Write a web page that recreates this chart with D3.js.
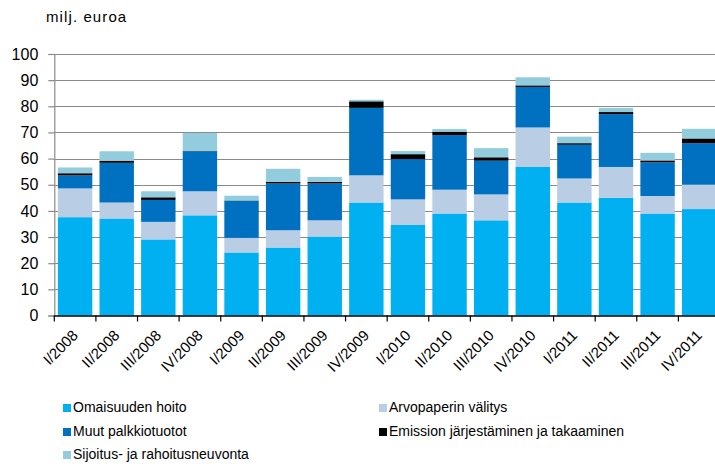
<!DOCTYPE html>
<html><head><meta charset="utf-8">
<script src="https://cdn.jsdelivr.net/npm/d3@7"></script>
<style>
body{margin:0;background:#fff;}
svg{display:block;font-family:"Liberation Sans",Arial,sans-serif;}
</style></head>
<body><svg id="c" width="715" height="467"></svg>
<script>
const categories = ["I/2008","II/2008","III/2008","IV/2008","I/2009","II/2009","III/2009","IV/2009","I/2010","II/2010","III/2010","IV/2010","I/2011","II/2011","III/2011","IV/2011"];
const seriesNames = ["Omaisuuden hoito","Arvopaperin välitys","Muut palkkiotuotot","Emission järjestäminen ja takaaminen","Sijoitus- ja rahoitusneuvonta"];
const omaisuudenHoito   = [37.6,37.1,29.1,38.3,24.1,26.0,30.2,43.2,34.6,39.0,36.4,56.8,43.2,45.0,39.0,40.7];
const arvopaperinValitys= [11.0, 6.1, 6.7, 9.2, 5.6, 6.6, 6.2,10.4, 9.8, 9.1, 9.9,15.1, 9.2,11.8, 6.7, 9.3];
const muutPalkkiotuotot = [ 5.0,15.2, 8.4,15.3,14.2,17.9,14.1,25.8,15.4,20.9,12.9,15.5,12.9,20.2,12.9,15.9];
const emissio           = [ 0.8, 0.8, 1.0, 0.1, 0.1, 0.6, 0.6, 2.5, 1.9, 1.3, 1.3, 0.6, 0.6, 0.8, 0.7, 1.8];
const sijoitusneuvonta  = [ 2.2, 3.6, 2.3, 6.9, 1.8, 5.0, 1.9, 0.6, 1.2, 1.0, 3.5, 3.1, 2.5, 1.6, 2.9, 3.7];
const yTicks = [0,10,20,30,40,50,60,70,80,90,100];
const colors = ["#00B0F0","#B9CDE5","#0070C0","#000000","#93CDDD"];

const seriesData = [omaisuudenHoito, arvopaperinValitys, muutPalkkiotuotot, emissio, sijoitusneuvonta];
const rows = categories.map((c,i)=>{const r={cat:c}; seriesNames.forEach((s,j)=>r[s]=seriesData[j][i]); return r;});
const stacked = d3.stack().keys(seriesNames)(rows);

const svg = d3.select("#c");
const x0 = 54.3, x1 = 720, yTop = 54, yBot = 315.5;
const x = d3.scaleBand().domain(categories).range([x0,x1]).paddingInner(0.173).paddingOuter(0.0865);
const y = d3.scaleLinear().domain([0,100]).range([yBot,yTop]);

// gridlines
svg.append("g").selectAll("line").data(yTicks.filter(t=>t>0)).join("line")
  .attr("x1",x0).attr("x2",715).attr("y1",d=>Math.round(y(d))+0.5).attr("y2",d=>Math.round(y(d))+0.5)
  .attr("stroke","#8a8a8a").attr("stroke-width",1.2);

// y axis
const yAxis = svg.append("g").attr("transform",`translate(${x0},0)`)
  .call(d3.axisLeft(y).tickValues(yTicks).tickSize(6).tickPadding(10).tickFormat(d3.format("d")));
yAxis.select(".domain").attr("stroke","#8a8a8a").attr("stroke-width",1.2);
yAxis.selectAll(".tick line").attr("stroke","#8a8a8a").attr("stroke-width",1.2);
yAxis.selectAll("text").attr("font-size",16).attr("fill","#000").attr("font-family","Liberation Sans, Arial, sans-serif");

// bars
svg.append("g").selectAll("g").data(stacked).join("g").attr("fill",(d,i)=>colors[i])
  .selectAll("rect").data(d=>d).join("rect")
  .attr("x",d=>x(d.data.cat)).attr("width",x.bandwidth())
  .attr("y",d=>y(d[1])).attr("height",d=>Math.max(0,y(d[0])-y(d[1])));

// x axis
const boundaries = d3.range(categories.length+1).map(i=>x0 + i*x.step());
const xa = svg.append("g");
xa.append("line").attr("x1",x0).attr("x2",715).attr("y1",yBot+0.5).attr("y2",yBot+0.5).attr("stroke","#000").attr("stroke-width",1.5);
xa.selectAll("line.t").data(boundaries).join("line").attr("class","t")
  .attr("x1",d=>d).attr("x2",d=>d).attr("y1",yBot).attr("y2",yBot+6).attr("stroke","#000").attr("stroke-width",1.2);
xa.selectAll("text").data(categories).join("text")
  .attr("transform",d=>`translate(${x(d)+x.bandwidth()/2+1},${yBot+18}) rotate(-45)`)
  .attr("text-anchor","end").attr("dominant-baseline","middle")
  .attr("font-size",15).attr("fill","#000").text(d=>d);

// unit label
svg.append("text").attr("x",46).attr("y",22).attr("font-size",15).attr("letter-spacing","1.1px").attr("fill","#000").text("milj. euroa");

// legend
const legendPos = [[63,408],[379,408],[63,432],[379,432],[63,455]];
const lg = svg.append("g").selectAll("g").data(seriesNames).join("g")
  .attr("transform",(d,i)=>`translate(${legendPos[i][0]},${legendPos[i][1]})`);
lg.append("rect").attr("x",0).attr("y",-4).attr("width",8).attr("height",8).attr("fill",(d,i)=>colors[i]);
lg.append("text").attr("x",10).attr("y",0).attr("dominant-baseline","middle").attr("font-size",14).attr("fill","#000").text(d=>d);
</script></body></html>
